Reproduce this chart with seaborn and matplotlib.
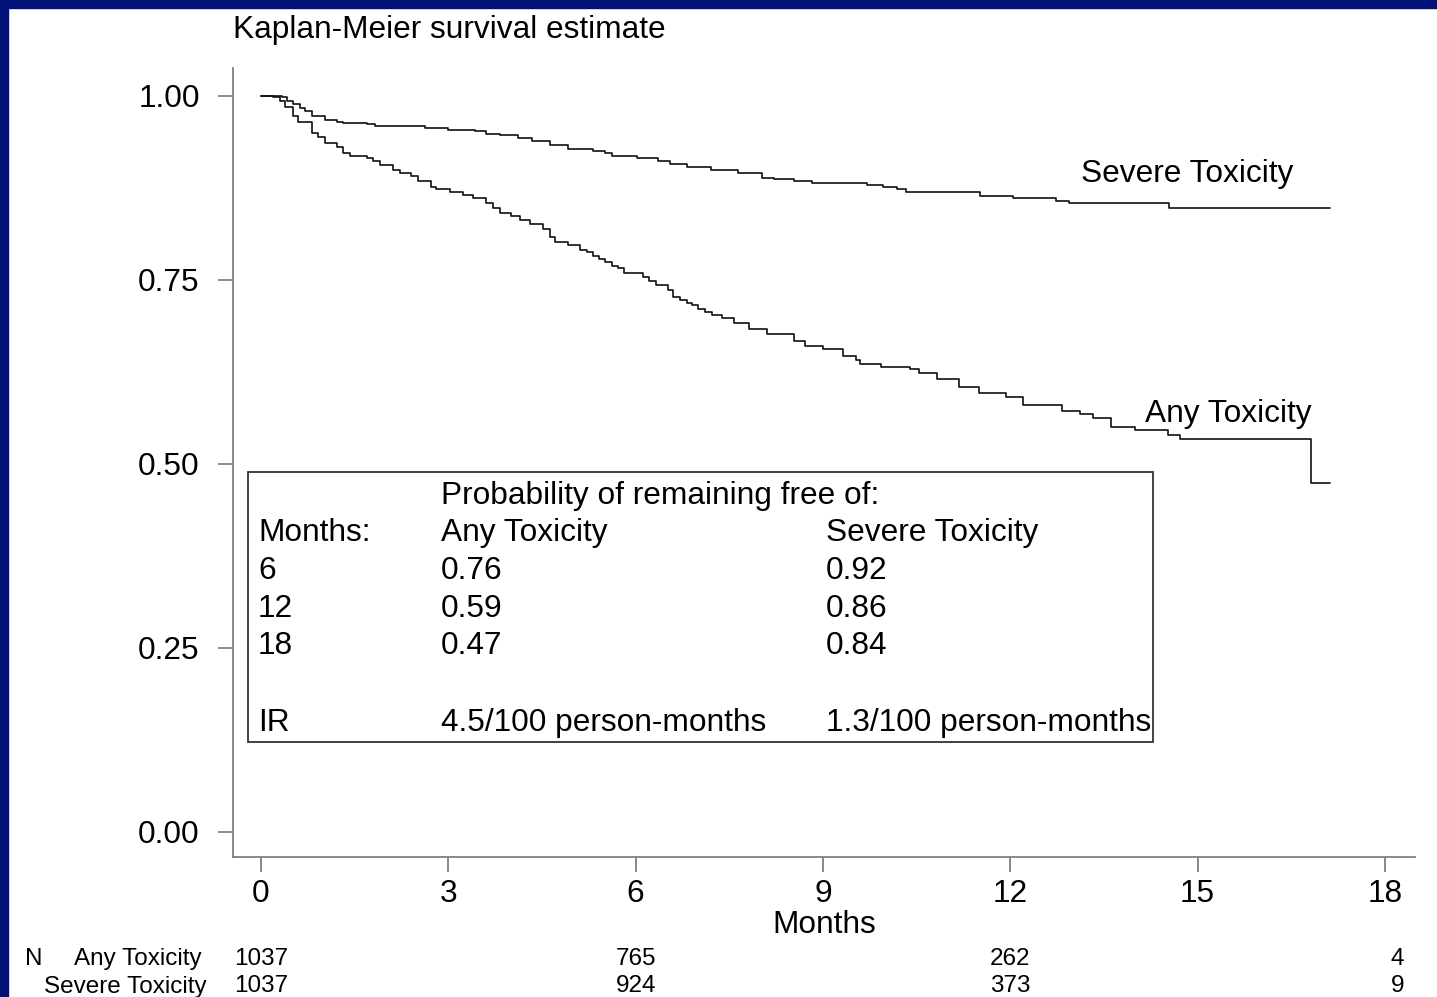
import matplotlib
matplotlib.use("Agg")
import matplotlib.pyplot as plt
import matplotlib.transforms as mtransforms
from matplotlib.patches import Rectangle
import numpy as np
import pandas as pd
import seaborn as sns

# Kaplan-Meier step points (months, survival)
any_t = [0, 0.20, 0.30, 0.38, 0.52, 0.60, 0.81, 0.92, 1.02, 1.21, 1.32, 1.43, 1.69, 1.80, 1.91,
         2.12, 2.23, 2.41, 2.52, 2.73, 2.81, 3.03, 3.24, 3.40, 3.61, 3.72, 3.83, 4.01, 4.15, 4.31,
         4.52, 4.63, 4.71, 4.92, 5.11, 5.22, 5.31, 5.42, 5.51, 5.62, 5.72, 5.82, 5.91, 6.11, 6.22,
         6.33, 6.51, 6.60, 6.71, 6.82, 6.91, 7.00, 7.11, 7.22, 7.38, 7.57, 7.82, 8.10, 8.53, 8.71,
         9.00, 9.32, 9.53, 9.60, 9.93, 10.39, 10.53, 10.82, 11.18, 11.50, 11.93, 12.21, 12.82, 13.11,
         13.32, 13.61, 14.00, 14.52, 14.72, 16.81, 17.12]
any_s = [1.000, 0.998, 0.993, 0.985, 0.973, 0.965, 0.950, 0.944, 0.936, 0.930, 0.923, 0.919, 0.916,
         0.912, 0.906, 0.900, 0.895, 0.891, 0.884, 0.876, 0.873, 0.869, 0.866, 0.862, 0.855, 0.848,
         0.841, 0.837, 0.832, 0.826, 0.819, 0.808, 0.801, 0.797, 0.791, 0.788, 0.783, 0.779, 0.774,
         0.769, 0.766, 0.760, 0.759, 0.754, 0.749, 0.743, 0.736, 0.727, 0.723, 0.719, 0.716, 0.710,
         0.707, 0.703, 0.699, 0.692, 0.683, 0.676, 0.667, 0.660, 0.656, 0.647, 0.641, 0.636, 0.632,
         0.629, 0.623, 0.616, 0.604, 0.597, 0.591, 0.580, 0.572, 0.568, 0.563, 0.550, 0.546, 0.540,
         0.534, 0.474, 0.474]

sev_t = [0, 0.33, 0.41, 0.52, 0.62, 0.70, 0.81, 1.02, 1.21, 1.32, 1.69, 1.83, 2.63, 3.00, 3.43,
         3.61, 3.83, 4.12, 4.34, 4.63, 4.92, 5.32, 5.51, 5.62, 6.02, 6.36, 6.55, 6.82, 7.20, 7.64,
         8.03, 8.21, 8.53, 8.82, 9.71, 9.96, 10.18, 10.33, 11.52, 12.04, 12.73, 12.94, 14.54, 17.12]
sev_s = [1.000, 0.998, 0.993, 0.989, 0.984, 0.980, 0.973, 0.968, 0.965, 0.963, 0.962, 0.959, 0.957,
         0.954, 0.952, 0.949, 0.947, 0.943, 0.939, 0.933, 0.928, 0.925, 0.923, 0.919, 0.916, 0.912,
         0.907, 0.903, 0.899, 0.896, 0.889, 0.887, 0.885, 0.882, 0.879, 0.876, 0.874, 0.869, 0.864,
         0.861, 0.857, 0.854, 0.848, 0.848]

x_ticks = [0, 3, 6, 9, 12, 15, 18]
y_ticks = [0, 0.25, 0.5, 0.75, 1.0]

# summary box
box_months = ["6", "12", "18"]
box_any = ["0.76", "0.59", "0.47"]
box_sev = ["0.92", "0.86", "0.84"]
ir_any = "4.5/100 person-months"
ir_sev = "1.3/100 person-months"

# numbers at risk
risk_months = [0, 6, 12, 18]
risk_any = ["1037", "765", "262", "4"]
risk_sev = ["1037", "924", "373", "9"]

df = pd.concat([
    pd.DataFrame({"Months": any_t, "Survival": any_s, "group": "Any Toxicity"}),
    pd.DataFrame({"Months": sev_t, "Survival": sev_s, "group": "Severe Toxicity"}),
])

sns.set_style("ticks")
plt.rcParams["font.family"] = ["Liberation Sans", "DejaVu Sans"]
plt.rcParams["text.color"] = "black"

W, H = 1437, 997
fig = plt.figure(figsize=(W / 100, H / 100), dpi=100)
fig.patch.set_facecolor("white")
navy = "#001177"
fig.patches.append(Rectangle((0, 0), 8 / W, 1, transform=fig.transFigure, color=navy, zorder=0))
fig.patches.append(Rectangle((0, 1 - 8 / H), 1, 8 / H, transform=fig.transFigure, color=navy, zorder=0))

ax = fig.add_axes([233 / W, 1 - 857 / H, (1415 - 233) / W, (857 - 68) / H])
ax.set_facecolor("white")

sns.lineplot(data=df, x="Months", y="Survival", hue="group",
             palette={"Any Toxicity": "#111111", "Severe Toxicity": "#111111"},
             drawstyle="steps-post", linewidth=1.2, legend=False, ax=ax, sort=False)

ax.set_xlim(-0.448, 18.48)
ax.set_ylim(-0.034, 1.038)
ax.set_xticks(x_ticks)
ax.set_yticks(y_ticks)
ax.set_yticklabels([f"{v:.2f}" for v in y_ticks])
for side in ["top", "right"]:
    ax.spines[side].set_visible(False)
for side in ["left", "bottom"]:
    ax.spines[side].set_color("#808080")
    ax.spines[side].set_linewidth(1.3)
fs = 22.8
ax.tick_params(axis="both", length=11, width=1.3, color="#808080", labelsize=fs,
               labelcolor="black")
ax.tick_params(axis="y", pad=13)
ax.tick_params(axis="x", pad=5)

ax.set_ylabel("")
ax.set_xlabel("Months", fontsize=fs, color="black")
ax.xaxis.set_label_coords(0.5, -0.067)

fig.text(233 / W, 1 - 30 / H, "Kaplan-Meier survival estimate", fontsize=fs,
         ha="left", va="center")

# curve labels
ax.text(13.13, 0.894, "Severe Toxicity", fontsize=fs, ha="left", va="center")
ax.text(14.16, 0.568, "Any Toxicity", fontsize=fs, ha="left", va="center")

# summary box
ax.add_patch(Rectangle((0.0127, 0.1458), 0.7783 - 0.0127, 0.488 - 0.1458,
                       transform=ax.transAxes, fill=False, edgecolor="#333333",
                       linewidth=1.3, zorder=3))
c1, c2, c3 = 0.0212, 0.176, 0.5017
ax.text(c2, 0.4474, "Probability of remaining free of:", transform=ax.transAxes, fontsize=fs, va="baseline")
ax.text(c1, 0.4005, "Months:", transform=ax.transAxes, fontsize=fs, va="baseline")
ax.text(c2, 0.4005, "Any Toxicity", transform=ax.transAxes, fontsize=fs, va="baseline")
ax.text(c3, 0.4005, "Severe Toxicity", transform=ax.transAxes, fontsize=fs, va="baseline")
row_y = [0.3523, 0.3042, 0.2573]
for m, a, s, yy in zip(box_months, box_any, box_sev, row_y):
    ax.text(c1, yy, m, transform=ax.transAxes, fontsize=fs, va="baseline")
    ax.text(c2, yy, a, transform=ax.transAxes, fontsize=fs, va="baseline")
    ax.text(c3, yy, s, transform=ax.transAxes, fontsize=fs, va="baseline")
ax.text(c1, 0.1597, "IR", transform=ax.transAxes, fontsize=fs, va="baseline")
ax.text(c2, 0.1597, ir_any, transform=ax.transAxes, fontsize=fs, va="baseline")
ax.text(c3, 0.1597, ir_sev, transform=ax.transAxes, fontsize=fs, va="baseline")

# number at risk table
trans = mtransforms.blended_transform_factory(ax.transData, ax.transAxes)
rfs = 17.5
for m, a, s in zip(risk_months, risk_any, risk_sev):
    off = 0.2 if m == 18 else 0.0
    ax.text(m + off, -0.129, a, transform=trans, fontsize=rfs, ha="center", va="center", clip_on=False)
    ax.text(m + off, -0.164, s, transform=trans, fontsize=rfs, ha="center", va="center", clip_on=False)
fig.text(25 / W, 1 - 959 / H, "N", fontsize=rfs, ha="left", va="center")
fig.text(202 / W, 1 - 959 / H, "Any Toxicity", fontsize=rfs, ha="right", va="center")
fig.text(207 / W, 1 - 987 / H, "Severe Toxicity", fontsize=rfs, ha="right", va="center")

fig.savefig("out.png", dpi=100)
